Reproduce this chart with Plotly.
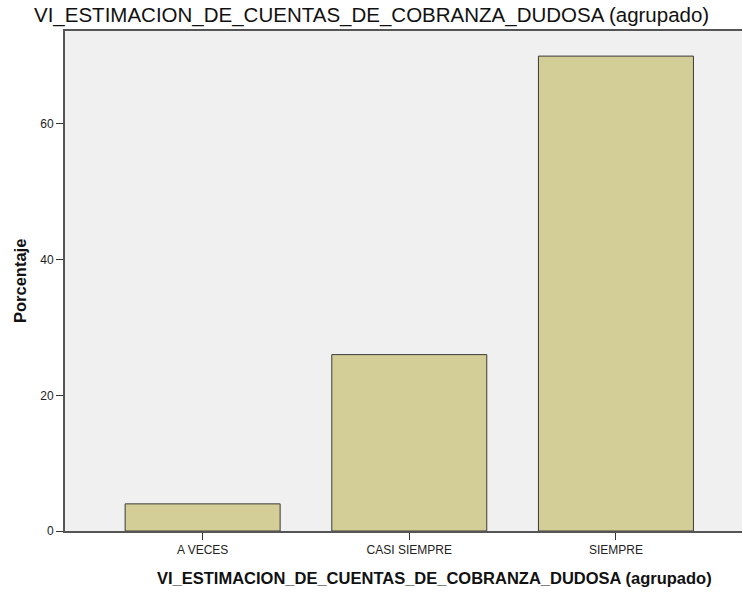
import plotly.graph_objects as go

categories = ["A VECES", "CASI SIEMPRE", "SIEMPRE"]
percentages = [4.0, 26.0, 70.0]
y_ticks = [0, 20, 40, 60]

title_text = "VI_ESTIMACION_DE_CUENTAS_DE_COBRANZA_DUDOSA (agrupado)"
x_title = "VI_ESTIMACION_DE_CUENTAS_DE_COBRANZA_DUDOSA (agrupado)"
y_title = "Porcentaje"

FONT = "Liberation Sans, Arial, sans-serif"

fig = go.Figure(
    go.Bar(
        x=categories,
        y=percentages,
        width=0.75,
        marker=dict(color="#D3CE97", line=dict(color="#3a3a3a", width=1)),
        hoverinfo="x+y",
    )
)

W, H = 743, 592
L, R, T, B = 65, 1, 31, 61
PW = W - L - R

fig.update_layout(
    width=W,
    height=H,
    margin=dict(l=L, r=R, t=T, b=B, pad=0),
    paper_bgcolor="white",
    plot_bgcolor="#F0F0F0",
    showlegend=False,
    font=dict(family=FONT, color="#222222"),
    xaxis=dict(
        type="category",
        range=[-0.666, 2.61],
        showline=True,
        linecolor="#555555",
        linewidth=2,
        mirror=True,
        ticks="outside",
        ticklen=7,
        tickcolor="#333333",
        tickwidth=1,
        tickfont=dict(size=12, color="#222222"),
        showgrid=False,
        zeroline=False,
    ),
    yaxis=dict(
        range=[0, 73.7],
        tickvals=y_ticks,
        showline=True,
        linecolor="#555555",
        linewidth=2,
        ticks="outside",
        ticklen=7,
        tickcolor="#333333",
        tickwidth=1,
        tickfont=dict(size=12, color="#222222"),
        showgrid=False,
        zeroline=False,
    ),
    annotations=[
        dict(
            text=title_text, xref="paper", yref="paper",
            x=(371.5 - L) / PW, y=1, yshift=16,
            xanchor="center", yanchor="middle", showarrow=False,
            font=dict(size=20.5, color="#111111", family=FONT),
        ),
        dict(
            text="<b>" + x_title + "</b>", xref="paper", yref="paper",
            x=(434 - L) / PW, y=0, yshift=-47,
            xanchor="center", yanchor="middle", showarrow=False,
            font=dict(size=16.5, color="#111111", family=FONT),
        ),
        dict(
            text="<b>" + y_title + "</b>", xref="paper", yref="paper",
            x=0, xshift=-(L - 20), y=0.5,
            xanchor="center", yanchor="middle", showarrow=False, textangle=-90,
            font=dict(size=16.5, color="#111111", family=FONT),
        ),
    ],
)

fig.write_html(
    "out.html",
    config={"displayModeBar": False},
    post_script="document.body.style.margin='0px';document.body.style.overflow='hidden';",
)
